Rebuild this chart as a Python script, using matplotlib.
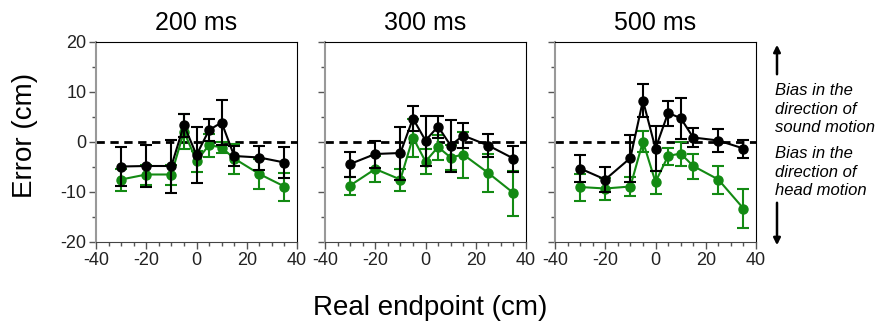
import matplotlib
matplotlib.use("Agg")
import matplotlib.pyplot as plt
from matplotlib.patches import FancyArrowPatch
from matplotlib.ticker import MultipleLocator

plt.rcParams['font.family'] = ['Liberation Sans', 'DejaVu Sans']
plt.rcParams['axes.unicode_minus'] = False

endpoints = [-30, -20, -10, -5, 0, 5, 10, 15, 25, 35]
titles = ["200 ms", "300 ms", "500 ms"]

# sound-motion condition (black)
black_200 = [-4.9, -4.8, -4.8, 3.4, -2.6, 2.4, 3.9, -2.8, -3.1, -4.1]
black_200_err = [3.9, 4.2, 5.3, 2.3, 5.6, 2.2, 4.5, 2.0, 2.4, 3.1]
black_300 = [-4.4, -2.4, -2.2, 4.7, 0.3, 3.1, -0.7, 1.3, -0.7, -3.3]
black_300_err = [2.5, 2.7, 5.3, 2.5, 5.0, 2.2, 5.2, 2.5, 2.3, 2.6]
black_500 = [-5.3, -7.5, -3.2, 8.3, -1.3, 5.8, 4.8, 0.9, 0.3, -1.3]
black_500_err = [2.7, 2.5, 4.7, 3.3, 4.5, 2.5, 4.1, 1.9, 2.3, 1.8]

# head-motion condition (green)
green_200 = [-7.5, -6.5, -6.5, 2.1, -3.8, -0.6, -1.1, -3.3, -6.4, -8.9]
green_200_err = [2.2, 2.0, 2.0, 3.5, 2.1, 2.3, 1.1, 3.0, 3.0, 2.8]
green_300 = [-8.7, -5.4, -7.5, 0.9, -3.9, -1.0, -3.1, -2.5, -6.2, -10.2]
green_300_err = [1.8, 2.6, 2.2, 3.8, 2.5, 2.5, 2.5, 4.6, 3.8, 4.5]
green_500 = [-9.0, -9.3, -8.9, 0.1, -8.0, -2.8, -2.3, -4.8, -7.5, -13.3]
green_500_err = [2.7, 2.2, 1.9, 2.1, 2.3, 1.7, 2.4, 2.5, 2.8, 3.9]

blacks = [(black_200, black_200_err), (black_300, black_300_err), (black_500, black_500_err)]
greens = [(green_200, green_200_err), (green_300, green_300_err), (green_500, green_500_err)]

fig = plt.figure(figsize=(8.84, 3.28), dpi=100)
lefts = [96 / 884, 325 / 884, 555 / 884]
w = 201 / 884
b = 1 - 242 / 328
h = 200 / 328

for i in range(3):
    ax = fig.add_axes([lefts[i], b, w, h])
    ax.axhline(0, color="black", ls=(0, (3, 2)), lw=2, zorder=1)
    g, ge = greens[i]
    ax.errorbar(endpoints, g, yerr=ge, color="#138a13", marker="o", ms=6.5,
                lw=1.5, elinewidth=1.5, capsize=4, capthick=1.5, zorder=2)
    k, ke = blacks[i]
    ax.errorbar(endpoints, k, yerr=ke, color="black", marker="o", ms=6.5,
                lw=1.5, elinewidth=1.5, capsize=4, capthick=1.5, zorder=3)
    ax.set_xlim(-40, 40)
    ax.set_ylim(-20, 20)
    ax.xaxis.set_major_locator(MultipleLocator(20))
    ax.xaxis.set_minor_locator(MultipleLocator(5))
    ax.yaxis.set_major_locator(MultipleLocator(10))
    ax.yaxis.set_minor_locator(MultipleLocator(5))
    ax.tick_params(which="major", length=5, width=1, color="#555555",
                   labelsize=13, labelcolor="#222222", pad=2)
    ax.tick_params(which="minor", length=3, width=1, color="#555555")
    ax.spines["left"].set_color("#999999")
    ax.spines["left"].set_linewidth(1.5)
    ax.spines["bottom"].set_color("#444444")
    for s in ["top", "right"]:
        ax.spines[s].set_linewidth(0.8)
    if i > 0:
        ax.set_yticklabels([])
    ax.set_title(titles[i], fontsize=18, pad=9)

fig.text(25 / 884, 1 - 135 / 328, "Error (cm)", rotation=90, fontsize=20,
         ha="center", va="center")
fig.text(430 / 884, 1 - 308 / 328, "Real endpoint (cm)", fontsize=20,
         ha="center", va="center")

# annotations on the right
fig.add_artist(FancyArrowPatch(
    (777 / 884, 1 - 77 / 328), (777 / 884, 1 - 42 / 328),
    transform=fig.transFigure, arrowstyle="-|>", mutation_scale=10,
    color="black", lw=1.8))
fig.add_artist(FancyArrowPatch(
    (777 / 884, 1 - 200 / 328), (777 / 884, 1 - 248 / 328),
    transform=fig.transFigure, arrowstyle="-|>", mutation_scale=10,
    color="black", lw=1.8))
fig.text(775 / 884, 1 - 83 / 328, "Bias in the\ndirection of\nsound motion",
         fontsize=12, style="italic", ha="left", va="top", linespacing=1.3)
fig.text(775 / 884, 1 - 146 / 328, "Bias in the\ndirection of\nhead motion",
         fontsize=12, style="italic", ha="left", va="top", linespacing=1.3)

fig.savefig("out.png", dpi=100)
